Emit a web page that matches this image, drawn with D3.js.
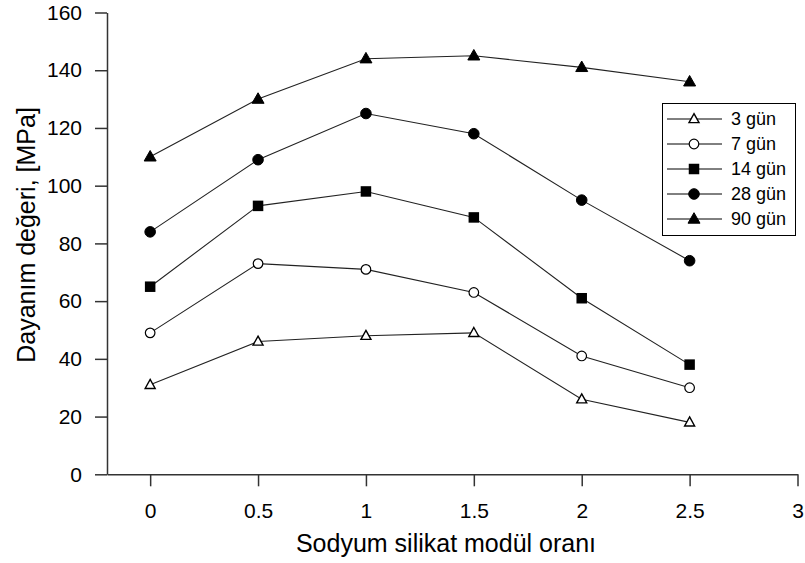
<!DOCTYPE html>
<html>
<head>
<meta charset="utf-8">
<script src="https://cdn.jsdelivr.net/npm/d3@7/dist/d3.min.js"></script>
<style>
  html, body { margin: 0; padding: 0; background: #fff; }
  svg { display: block; font-family: Arial, "Liberation Sans", sans-serif; }
</style>
</head>
<body>
<svg id="chart" width="805" height="563"></svg>
<script>
// ---- data ----
const xValues = [0, 0.5, 1, 1.5, 2, 2.5];
const seriesNames = ["3 gün", "7 gün", "14 gün", "28 gün", "90 gün"];
const gun3  = [31, 46, 48, 49, 26, 18];
const gun7  = [49, 73, 71, 63, 41, 30];
const gun14 = [65, 93, 98, 89, 61, 38];
const gun28 = [84, 109, 125, 118, 95, 74];
const gun90 = [110, 130, 144, 145, 141, 136];
const markerTypes = ["triangleOpen", "circleOpen", "squareFilled", "circleFilled", "triangleFilled"];
const xTicks = [0, 0.5, 1, 1.5, 2, 2.5, 3];
const yTicks = [0, 20, 40, 60, 80, 100, 120, 140, 160];
const xTitle = "Sodyum silikat modül oranı";
const yTitle = "Dayanım değeri, [MPa]";

const allSeries = [gun3, gun7, gun14, gun28, gun90];

const svg = d3.select("#chart");
const x = d3.scaleLinear().domain([-0.2, 3]).range([107, 797.5]);
const y = d3.scaleLinear().domain([0, 160]).range([474.3, 12.5]);

const axisColor = "#333";

// axes
const xAxis = svg.append("g").attr("transform", `translate(0,${y(0)})`)
  .call(d3.axisBottom(x).tickValues(xTicks).tickSize(12).tickPadding(17).tickSizeOuter(0)
        .tickFormat(d => d3.format("")(d)));
const yAxis = svg.append("g").attr("transform", `translate(${x(-0.2)},0)`)
  .call(d3.axisLeft(y).tickValues(yTicks).tickSize(12).tickPadding(13).tickSizeOuter(0));
[xAxis, yAxis].forEach(g => {
  g.select(".domain").attr("stroke", axisColor).attr("stroke-width", 1.5);
  g.selectAll(".tick line").attr("stroke", axisColor).attr("stroke-width", 1.5);
  g.selectAll(".tick text").attr("fill", "#000").style("font-size", "21px")
    .style("font-family", 'Arial, "Liberation Sans", sans-serif');
});

// titles
svg.append("text").attr("x", 446).attr("y", 552).attr("text-anchor", "middle")
  .style("font-size", "25px").attr("fill", "#000").text(xTitle);
svg.append("text").attr("transform", `translate(35,235) rotate(-90)`).attr("text-anchor", "middle")
  .style("font-size", "25px").attr("fill", "#000").text(yTitle);

// marker drawer
function drawMarker(g, type, cx, cy) {
  if (type === "triangleOpen" || type === "triangleFilled") {
    const w = type === "triangleOpen" ? 10 : 12, h = type === "triangleOpen" ? 9 : 10.5;
    g.append("path")
      .attr("d", `M${cx},${cy - h * 0.6} L${cx + w / 2},${cy + h * 0.4} L${cx - w / 2},${cy + h * 0.4} Z`)
      .attr("fill", type === "triangleOpen" ? "#fff" : "#000")
      .attr("stroke", "#000").attr("stroke-width", type === "triangleOpen" ? 1.4 : 1);
  } else if (type === "circleOpen" || type === "circleFilled") {
    g.append("circle").attr("cx", cx).attr("cy", cy)
      .attr("r", type === "circleOpen" ? 4.8 : 5.3)
      .attr("fill", type === "circleOpen" ? "#fff" : "#000")
      .attr("stroke", "#000").attr("stroke-width", type === "circleOpen" ? 1.2 : 1);
  } else if (type === "squareFilled") {
    const s = 10.5;
    g.append("rect").attr("x", cx - s / 2).attr("y", cy - s / 2).attr("width", s).attr("height", s)
      .attr("fill", "#000");
  }
}

// lines + markers
const line = d3.line().x((d, i) => x(xValues[i])).y(d => y(d));
allSeries.forEach((vals, si) => {
  svg.append("path").datum(vals).attr("d", line)
    .attr("fill", "none").attr("stroke", "#222").attr("stroke-width", 1.1);
});
allSeries.forEach((vals, si) => {
  const g = svg.append("g");
  vals.forEach((v, i) => drawMarker(g, markerTypes[si], x(xValues[i]), y(v)));
});

// legend
const lg = svg.append("g");
lg.append("rect").attr("x", 662.5).attr("y", 103.5).attr("width", 133).attr("height", 132)
  .attr("fill", "#fff").attr("stroke", "#000").attr("stroke-width", 1);
seriesNames.forEach((name, i) => {
  const cy = 119 + i * 25;
  lg.append("line").attr("x1", 667).attr("x2", 722).attr("y1", cy).attr("y2", cy)
    .attr("stroke", "#000").attr("stroke-width", 1);
  drawMarker(lg, markerTypes[i], 694, cy);
  lg.append("text").attr("x", 731).attr("y", cy).attr("dy", "0.36em")
    .style("font-size", "18px").attr("fill", "#000").text(name);
});
</script>
</body>
</html>
